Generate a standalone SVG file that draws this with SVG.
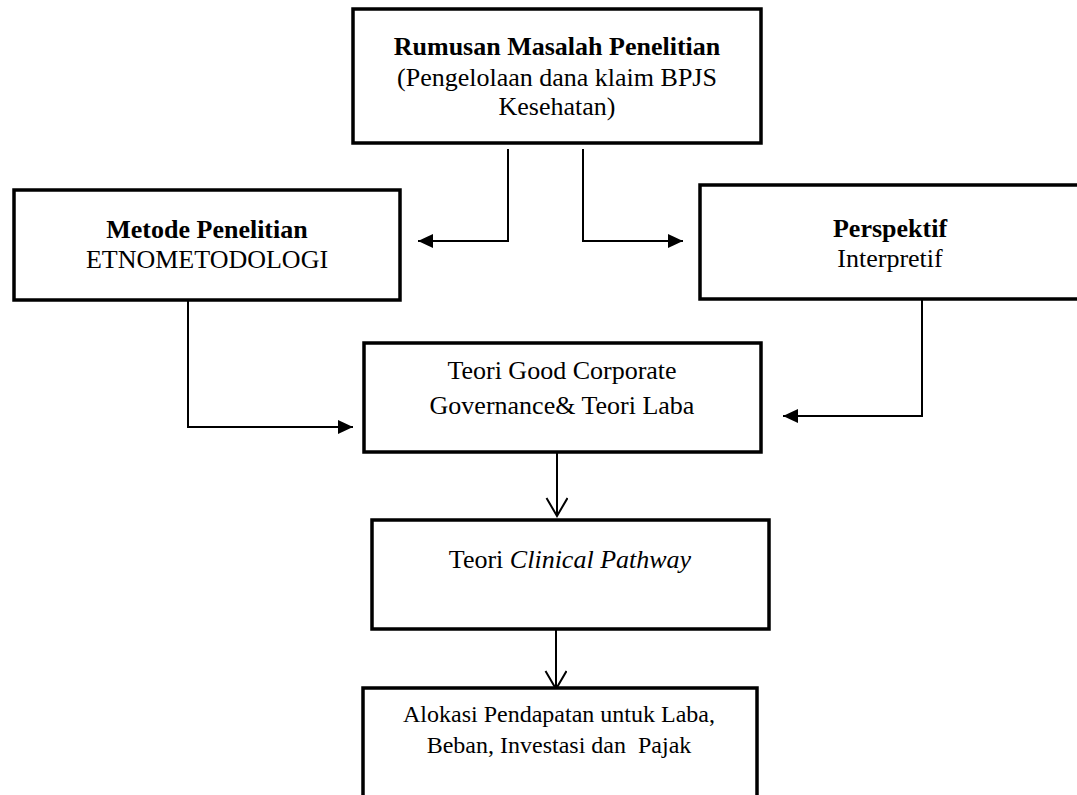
<svg xmlns="http://www.w3.org/2000/svg" width="1077" height="795" viewBox="0 0 1077 795">
<style>
.box{fill:#fff;stroke:#000;stroke-width:3.5}
.t{font-family:"Liberation Serif","Times New Roman",serif;font-size:26px;fill:#000;text-anchor:middle}
.b{font-weight:bold}
.s{font-size:24px}
.c{fill:none;stroke:#000;stroke-width:2}
</style>
<defs>
<marker id="tri" markerUnits="userSpaceOnUse" markerWidth="16" markerHeight="16" refX="15" refY="7" orient="auto">
<path d="M0,0 L15,7 L0,14 z" fill="#000"/>
</marker>
<marker id="vee" markerUnits="userSpaceOnUse" markerWidth="22" markerHeight="24" refX="19" refY="11" orient="auto">
<path d="M1,0.5 L19,11 L1,21.5" fill="none" stroke="#000" stroke-width="2"/>
</marker>
</defs>
<rect width="1077" height="795" fill="#fff"/>
<g id="connectors">
<path class="c" d="M508,149 V241 H418" marker-end="url(#tri)"/>
<path class="c" d="M583,149 V241 H683" marker-end="url(#tri)"/>
<path class="c" d="M188,301 V427 H353" marker-end="url(#tri)"/>
<path class="c" d="M922,300 V416 H783" marker-end="url(#tri)"/>
<path class="c" d="M557,453 V516" marker-end="url(#vee)"/>
<path class="c" d="M556,630 V689" marker-end="url(#vee)"/>
</g>
<g id="rumusan">
<rect class="box" x="353" y="9" width="408" height="134"/>
<text class="t b" x="557" y="55">Rumusan Masalah Penelitian</text>
<text class="t" x="557" y="86">(Pengelolaan dana klaim BPJS</text>
<text class="t" x="557" y="115">Kesehatan)</text>
</g>
<g id="metode">
<rect class="box" x="14" y="190" width="386" height="110"/>
<text class="t b" x="207" y="238">Metode Penelitian</text>
<text class="t" x="207" y="268">ETNOMETODOLOGI</text>
</g>
<g id="perspektif">
<rect class="box" x="700" y="185" width="385" height="114"/>
<text class="t b" x="890" y="237">Perspektif</text>
<text class="t" x="890" y="267">Interpretif</text>
</g>
<g id="teori-gcg">
<rect class="box" x="364" y="343" width="397" height="109"/>
<text class="t" x="562" y="379">Teori Good Corporate</text>
<text class="t" x="562" y="414">Governance&amp; Teori Laba</text>
</g>
<g id="clinical">
<rect class="box" x="372" y="520" width="397" height="109"/>
<text class="t" x="570" y="568">Teori <tspan font-style="italic">Clinical Pathway</tspan></text>
</g>
<g id="alokasi">
<rect class="box" x="363" y="688" width="394" height="120"/>
<text class="t s" x="559" y="722">Alokasi Pendapatan untuk Laba,</text>
<text class="t s" x="559" y="753">Beban, Investasi dan&#160; Pajak</text>
</g>
</svg>
